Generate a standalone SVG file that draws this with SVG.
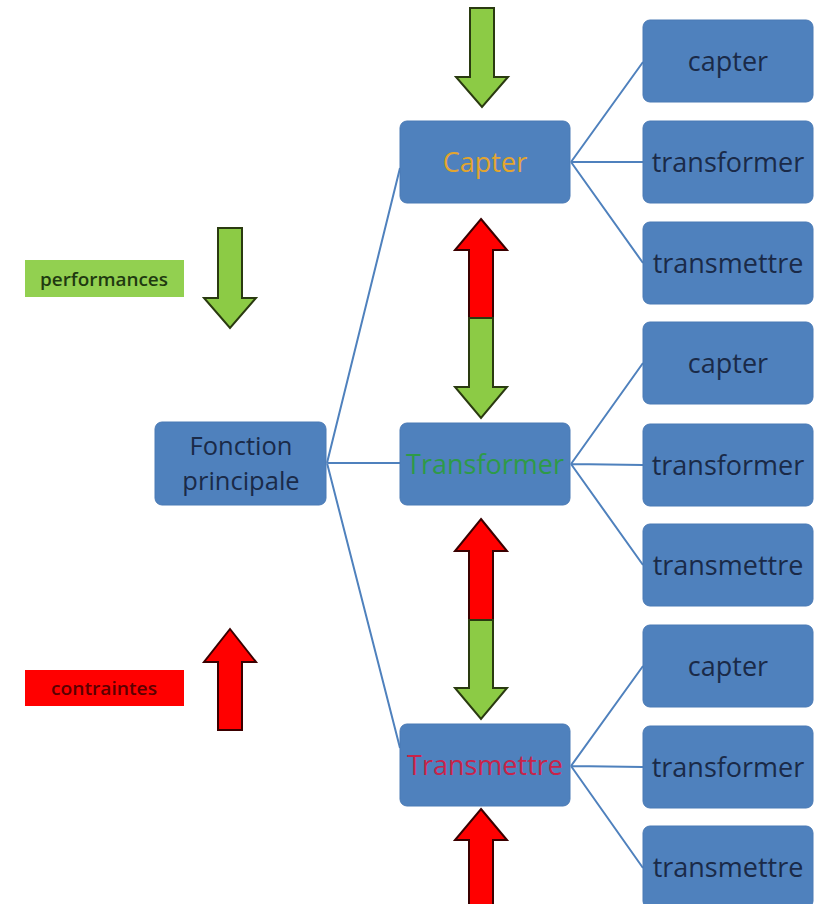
<svg xmlns="http://www.w3.org/2000/svg" width="814" height="904" viewBox="0 0 814 904">
<style>
.box{fill:#4F81BD;stroke:#4A7AB5;stroke-width:1}
.t{font-family:"Open Sans","Liberation Sans",sans-serif;font-size:27px;fill:#1A2A48;text-anchor:middle}
.c{stroke:#4F81BD;stroke-width:2;fill:none}
.g{fill:#8CCB45;stroke:#2A3A10;stroke-width:2;stroke-linejoin:miter}
.r{fill:#FF0000;stroke:#3A0000;stroke-width:2;stroke-linejoin:miter}
</style>
<rect width="814" height="904" fill="#fff"/>
<g id="connectors">
<path class="c" d="M327 463 L400 168 M327 463 L400 463 M327 463 L400 748"/>
<path class="c" d="M571 162 L643 62 M571 162 L643 162 M571 162 L643 263"/>
<path class="c" d="M571 464 L643 363 M571 464 L643 465 M571 464 L643 565"/>
<path class="c" d="M571 766 L643 666 M571 766 L643 767 M571 766 L643 868"/>
</g>
<g id="arrows">
<polygon class="g" points="470,8 494,8 494,77 508,77 482,107 456,77 470,77"/>
<polygon class="g" points="218,228 242,228 242,298 256,298 230,328 204,298 218,298"/>
<polygon class="r" points="230,629 256,662 242,662 242,730 218,730 218,662 204,662"/>
<polygon class="r" points="481,219 507,250 493,250 493,318 469,318 469,250 455,250"/>
<polygon class="g" points="469,318 493,318 493,387 507,387 481,418 455,387 469,387"/>
<polygon class="r" points="481,519 507,551 493,551 493,620 469,620 469,551 455,551"/>
<polygon class="g" points="469,620 493,620 493,688 507,688 481,719 455,688 469,688"/>
<polygon class="r" points="481,809 507,840 493,840 493,906 469,906 469,840 455,840"/>
</g>
<g id="performances">
<rect x="25" y="260" width="159" height="37" fill="#92D050"/>
<text x="104" y="286" font-family="Open Sans,Liberation Sans,sans-serif" font-size="18" font-weight="600" fill="#1F3A10" text-anchor="middle" textLength="128" lengthAdjust="spacingAndGlyphs">performances</text>
</g>
<g id="contraintes">
<rect x="25" y="670" width="159" height="36" fill="#FF0000"/>
<text x="104" y="695" font-family="Open Sans,Liberation Sans,sans-serif" font-size="18" font-weight="600" fill="#5A0000" text-anchor="middle" textLength="106" lengthAdjust="spacingAndGlyphs">contraintes</text>
</g>
<g id="fonction">
<rect class="box" x="155" y="422" width="171" height="83" rx="7"/>
<text class="t" x="241" y="455" style="font-size:25.5px">Fonction</text>
<text class="t" x="241" y="490" style="font-size:25.5px">principale</text>
</g>
<g id="capter-main">
<rect class="box" x="400" y="121" width="170" height="82" rx="7"/>
<text class="t" x="485" y="172" style="fill:#E3A52E">Capter</text>
</g>
<g id="transformer-main">
<rect class="box" x="400" y="423" width="170" height="82" rx="7"/>
<text class="t" x="485" y="474" style="fill:#2E9A48">Transformer</text>
</g>
<g id="transmettre-main">
<rect class="box" x="400" y="724" width="170" height="82" rx="7"/>
<text class="t" x="485" y="775" style="fill:#C8234A">Transmettre</text>
</g>
<g id="r1"><rect class="box" x="643" y="20" width="170" height="82" rx="7"/><text class="t" x="728" y="71">capter</text></g>
<g id="r2"><rect class="box" x="643" y="121" width="170" height="82" rx="7"/><text class="t" x="728" y="172">transformer</text></g>
<g id="r3"><rect class="box" x="643" y="222" width="170" height="82" rx="7"/><text class="t" x="728" y="273">transmettre</text></g>
<g id="r4"><rect class="box" x="643" y="322" width="170" height="82" rx="7"/><text class="t" x="728" y="373">capter</text></g>
<g id="r5"><rect class="box" x="643" y="424" width="170" height="82" rx="7"/><text class="t" x="728" y="475">transformer</text></g>
<g id="r6"><rect class="box" x="643" y="524" width="170" height="82" rx="7"/><text class="t" x="728" y="575">transmettre</text></g>
<g id="r7"><rect class="box" x="643" y="625" width="170" height="82" rx="7"/><text class="t" x="728" y="676">capter</text></g>
<g id="r8"><rect class="box" x="643" y="726" width="170" height="82" rx="7"/><text class="t" x="728" y="777">transformer</text></g>
<g id="r9"><rect class="box" x="643" y="826" width="170" height="82" rx="7"/><text class="t" x="728" y="877">transmettre</text></g>
</svg>
